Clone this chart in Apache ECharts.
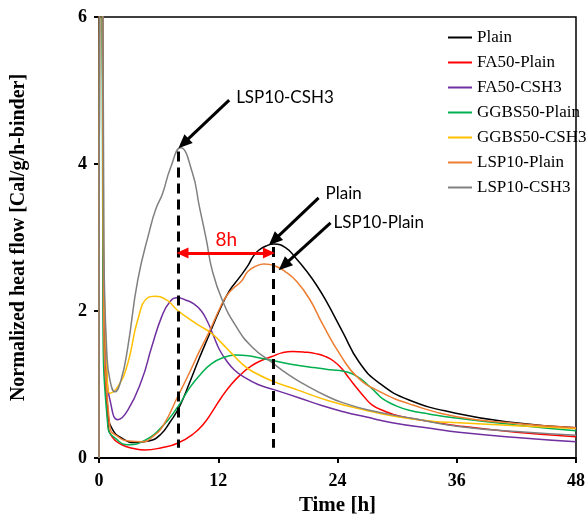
<!DOCTYPE html>
<html>
<head>
<meta charset="utf-8">
<script src="https://cdn.jsdelivr.net/npm/echarts@6/dist/echarts.min.js"></script>
<style>
  html, body { margin: 0; padding: 0; background: #fff; }
  #chart { width: 588px; height: 521px; }
</style>
</head>
<body>
<div id="chart"></div>
<script>
// data: [time h, heat flow]
var names = ['Plain', 'FA50-Plain', 'FA50-CSH3', 'GGBS50-Plain', 'GGBS50-CSH3', 'LSP10-Plain', 'LSP10-CSH3'];
var colors = ['#000000', '#ff0000', '#7030a0', '#00b050', '#ffc000', '#ed7d31', '#808080'];

var plain = [[0,0],[0.2,12],[0.45,2.2],[0.9,0.61],[1.4,0.38],[2.3,0.27],[3.6,0.21],[5.0,0.23],[6.2,0.32],[7.2,0.5],[8.1,0.7],[9.1,1.02],[10.1,1.36],[11.1,1.68],[12.1,2.0],[13.1,2.27],[14.1,2.45],[15.0,2.62],[15.5,2.74],[16.1,2.83],[16.9,2.89],[17.6,2.91],[18.8,2.86],[19.8,2.72],[20.9,2.54],[21.9,2.35],[22.8,2.15],[24.5,1.72],[26.2,1.3],[28.2,1.02],[31.2,0.79],[35.9,0.61],[41.9,0.48],[48,0.41]];
var fa50Plain = [[0,0],[0.2,12],[0.45,2.0],[0.9,0.5],[1.3,0.29],[2.3,0.18],[3.5,0.13],[4.6,0.11],[6.3,0.14],[7.9,0.2],[9.6,0.34],[10.5,0.46],[11.3,0.61],[12.3,0.82],[13.3,1.0],[14.3,1.14],[15.3,1.25],[16.4,1.33],[17.4,1.38],[18.4,1.43],[19.5,1.45],[20.8,1.44],[21.8,1.42],[22.8,1.38],[23.6,1.32],[24.4,1.22],[25.2,1.08],[25.9,0.96],[26.7,0.83],[27.5,0.72],[28.7,0.64],[30.2,0.57],[33.2,0.5],[36,0.44],[42,0.35],[48,0.29]];
var fa50Csh3 = [[0,0],[0.2,12],[0.45,2.5],[0.8,1.1],[1.1,0.79],[1.9,0.52],[2.9,0.65],[4.3,1.06],[5.3,1.51],[6.3,1.92],[7.1,2.12],[7.9,2.18],[8.7,2.15],[9.5,2.1],[10.3,2.0],[10.9,1.86],[11.5,1.67],[12.1,1.48],[12.8,1.33],[13.6,1.2],[14.6,1.1],[16,1.0],[17.6,0.93],[20.1,0.82],[22.5,0.71],[24.6,0.63],[26.8,0.56],[29.5,0.48],[33.5,0.4],[36.2,0.35],[42,0.28],[48,0.22]];
var ggbsPlain = [[0,0],[0.2,12],[0.4,2.0],[0.9,0.42],[1.9,0.24],[2.9,0.18],[4.6,0.24],[6.3,0.42],[7.9,0.69],[9.1,0.95],[10.1,1.12],[11.3,1.28],[12.6,1.37],[13.8,1.4],[15,1.39],[16.2,1.36],[17.4,1.33],[18.8,1.29],[20.1,1.26],[21.6,1.23],[23.3,1.2],[24.6,1.18],[25.4,1.15],[26.2,1.09],[27,1.0],[27.8,0.9],[28.6,0.8],[29.9,0.71],[31.2,0.65],[33.2,0.6],[35.5,0.55],[41.9,0.45],[48,0.37]];
var ggbsCsh3 = [[0,0],[0.2,12],[0.45,3],[0.8,1.2],[1.1,0.88],[1.9,0.97],[2.9,1.29],[3.9,1.88],[4.9,2.18],[5.6,2.2],[6.8,2.15],[7.9,2.01],[9.0,1.9],[10.1,1.8],[11.3,1.7],[12.3,1.57],[13.3,1.43],[14.4,1.28],[15.4,1.18],[17.4,1.05],[20.1,0.92],[23.1,0.78],[26.8,0.65],[30,0.56],[33.5,0.5],[36.2,0.48],[42,0.44],[48,0.40]];
var lspPlain = [[0,0],[0.2,12],[0.45,2.3],[1.1,0.42],[1.9,0.29],[3,0.23],[4.3,0.22],[5.5,0.3],[6.5,0.45],[7.9,0.83],[9.1,1.16],[10.1,1.45],[11.1,1.72],[12.1,2.02],[12.8,2.2],[13.6,2.32],[14.3,2.4],[15,2.54],[15.8,2.61],[16.6,2.64],[17.6,2.62],[18.8,2.53],[19.9,2.4],[21.2,2.16],[22.5,1.82],[24.3,1.4],[26,1.1],[28.3,0.9],[31.6,0.72],[36,0.56],[42,0.47],[48,0.41]];
var lspCsh3 = [[0,0],[0.2,12],[0.5,2.8],[0.8,1.4],[1.1,1.06],[1.6,0.9],[2.2,1.05],[2.9,1.51],[3.9,2.42],[5.1,3.1],[5.7,3.38],[6.4,3.6],[7.2,3.95],[8.2,4.22],[9.4,3.88],[10.1,3.42],[10.8,2.97],[11.4,2.55],[12.4,2.15],[13.8,1.79],[15.4,1.51],[17.4,1.3],[19.1,1.13],[20.3,1.03],[23.1,0.83],[24.6,0.75],[27.2,0.65],[31.5,0.54],[36.2,0.43],[42,0.36],[48,0.31]];
var allData = [plain, fa50Plain, fa50Csh3, ggbsPlain, ggbsCsh3, lspPlain, lspCsh3];

var xTicks = [0, 12, 24, 36, 48];
var yTicks = [0, 2, 4, 6];

// annotations (data coords)
var peakCsh3 = [8.0, 4.2];
var peakPlain = [17.5, 2.9];
var gapArrow = [[8.4, 2.79], [17.1, 2.79]];

var serif = 'Liberation Serif';
var sans = 'Lato';

var series = names.map(function (n, i) {
    return {
        name: n,
        type: 'line',
        data: allData[i],
        symbol: 'none',
        smooth: 0.5,
        clip: true,
        lineStyle: { color: colors[i], width: 1.5 },
        itemStyle: { color: colors[i] },
        z: 2
    };
});

series.push({
    name: 'annot',
    type: 'line',
    data: [],
    silent: true,
    z: 5,
    markLine: {
        silent: true,
        animation: false,
        label: { show: false },
        emphasis: { disabled: true },
        data: [
            [{ coord: [peakCsh3[0], peakCsh3[1] - 0.03], symbol: 'none', lineStyle: { color: '#000', width: 3, type: [10, 6] } },
             { coord: [peakCsh3[0], 0.14], symbol: 'none' }],
            [{ coord: [peakPlain[0], peakPlain[1] - 0.03], symbol: 'none', lineStyle: { color: '#000', width: 3, type: [10, 6] } },
             { coord: [peakPlain[0], 0.14], symbol: 'none' }],
            [{ coord: gapArrow[0], symbol: 'triangle', symbolSize: [11, 12], lineStyle: { color: '#ff0000', width: 3, type: 'solid' }, itemStyle: { color: '#ff0000' } },
             { coord: gapArrow[1], symbol: 'triangle', symbolSize: [11, 12] }],
            [{ coord: [13.1, 4.87], symbol: 'none', lineStyle: { color: '#000', width: 3, type: 'solid' } },
             { coord: [8.5, 4.28], symbol: 'triangle', symbolSize: [12, 14], itemStyle: { color: '#000' } }],
            [{ coord: [22.1, 3.54], symbol: 'none', lineStyle: { color: '#000', width: 3, type: 'solid' } },
             { coord: [17.6, 2.96], symbol: 'triangle', symbolSize: [12, 14], itemStyle: { color: '#000' } }],
            [{ coord: [23.3, 3.2], symbol: 'none', lineStyle: { color: '#000', width: 3, type: 'solid' } },
             { coord: [18.6, 2.62], symbol: 'triangle', symbolSize: [12, 14], itemStyle: { color: '#000' } }]
        ]
    },
    markPoint: {
        silent: true,
        animation: false,
        symbol: 'circle',
        symbolSize: 0,
        label: { show: true, position: 'right', distance: 0, fontFamily: sans, fontSize: 17, color: '#000' },
        data: [
            { coord: [13.8, 4.9], value: 'LSP10-CSH3', label: { formatter: 'LSP10-CSH3' } },
            { coord: [22.8, 3.6], value: 'Plain', label: { formatter: 'Plain' } },
            { coord: [23.6, 3.2], value: 'LSP10-Plain', label: { formatter: 'LSP10-Plain' } },
            { coord: [12.8, 2.97], value: '8h', label: { formatter: '8h', position: 'inside', color: '#ff0000', fontSize: 19 } }
        ]
    }
});

var myChart = echarts.init(document.getElementById('chart'));
var option = {
    animation: false,
    grid: {
        left: 99, right: 10, top: 17, bottom: 63,
        show: true, borderColor: '#000', borderWidth: 1.5, backgroundColor: 'transparent'
    },
    legend: {
        data: names,
        orient: 'vertical',
        left: 442,
        top: 24,
        itemWidth: 24,
        itemHeight: 14,
        itemGap: 8,
        itemStyle: { opacity: 0 },
        textStyle: { fontFamily: serif, fontSize: 17, color: '#000' }
    },
    xAxis: {
        type: 'value',
        min: 0, max: 48, interval: 12,
        name: 'Time [h]',
        nameLocation: 'middle',
        nameGap: 31,
        nameTextStyle: { fontFamily: serif, fontWeight: 'bold', fontSize: 21, color: '#000' },
        axisLine: { lineStyle: { color: '#000', width: 2 } },
        axisTick: { length: 5, lineStyle: { color: '#000', width: 2 } },
        axisLabel: { fontFamily: serif, fontWeight: 'bold', fontSize: 18, color: '#000', margin: 14,
            customValues: xTicks },
        splitLine: { show: false }
    },
    yAxis: {
        type: 'value',
        min: 0, max: 6, interval: 2,
        name: 'Normalized heat flow [Cal/g/h-binder]',
        nameLocation: 'middle',
        nameGap: 70,
        nameTextStyle: { fontFamily: serif, fontWeight: 'bold', fontSize: 20, color: '#000' },
        axisLine: { show: true, lineStyle: { color: '#000', width: 2 } },
        axisTick: { show: true, length: 5, lineStyle: { color: '#000', width: 2 } },
        axisLabel: { fontFamily: serif, fontWeight: 'bold', fontSize: 18, color: '#000', margin: 12,
            customValues: yTicks },
        splitLine: { show: false }
    },
    series: series
};
myChart.setOption(option);
</script>
</body>
</html>
